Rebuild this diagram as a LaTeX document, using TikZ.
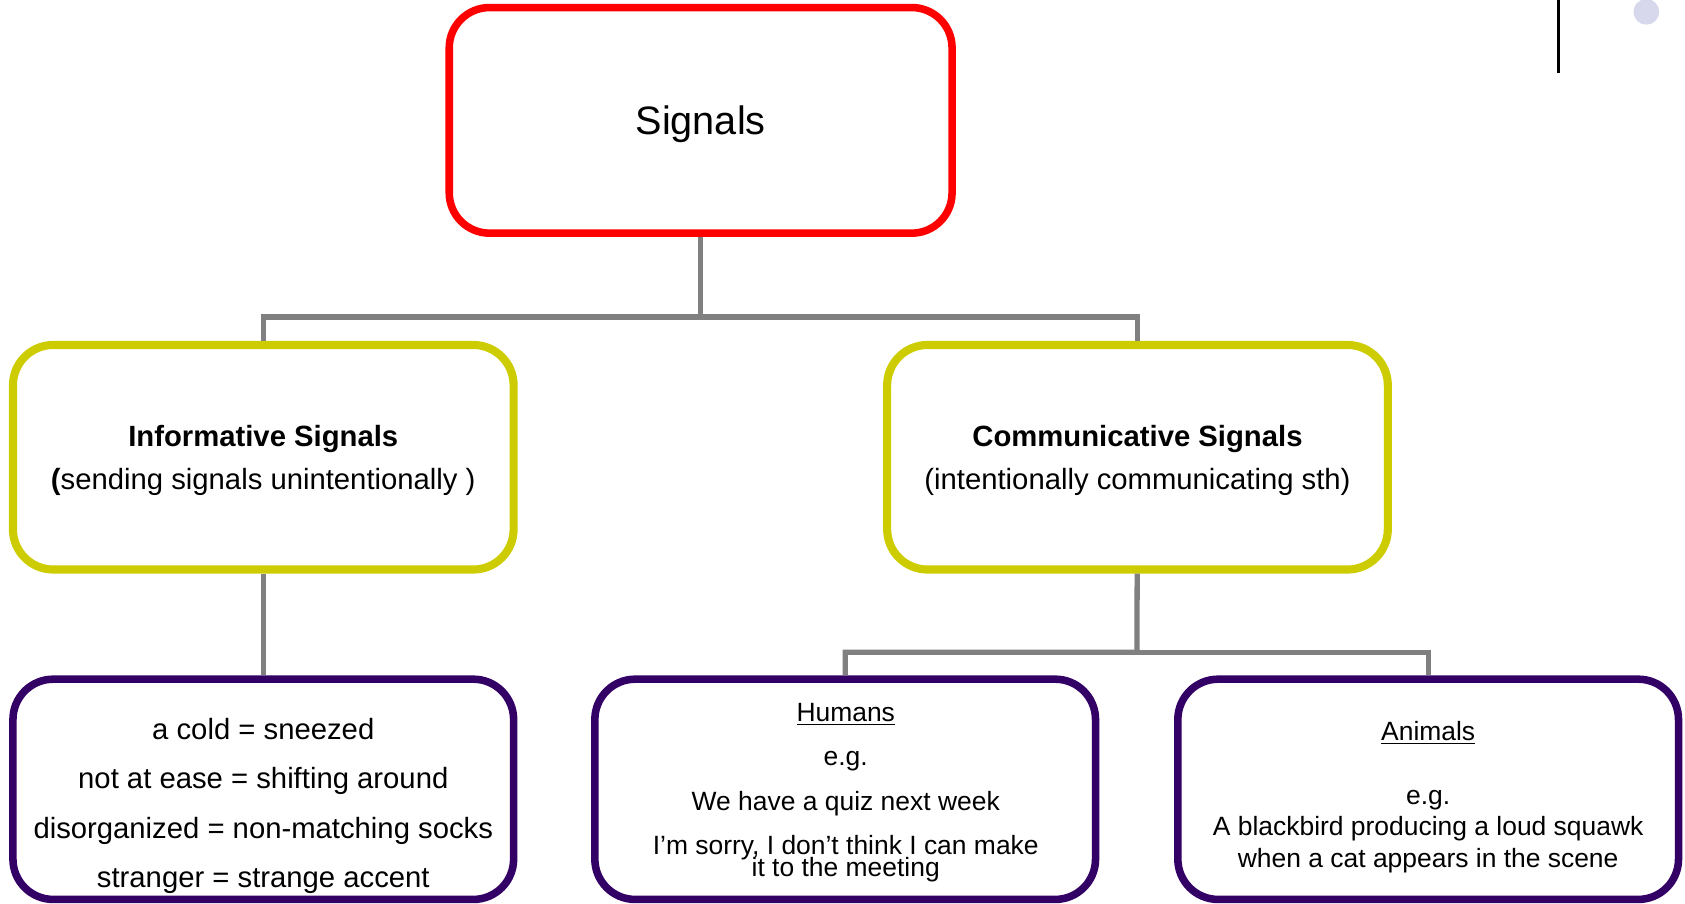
\documentclass[tikz,border=0pt]{standalone}
\usepackage{fontspec}
\setmainfont{Liberation Sans}
\definecolor{olivey}{RGB}{204,204,0}
\definecolor{deep}{RGB}{51,0,102}
\definecolor{linegray}{RGB}{128,128,128}
\definecolor{dotgray}{RGB}{216,216,236}

\begin{document}
\begin{tikzpicture}[x=0.02cm,y=-0.02cm,
        box/.style={draw,rounded corners=0.75cm,minimum width=9.32cm,align=center,inner sep=0pt},
        topbox/.style={box,draw=red,line width=4pt,minimum width=9.36cm,minimum height=4.2cm,text depth=0pt,font=\fontsize{21}{25}\selectfont},
        midbox/.style={box,draw=olivey,line width=4.3pt,minimum height=4.18cm,text depth=0pt,font=\fontsize{15.5}{22.7}\selectfont},
        leafbox/.style={box,draw=deep,line width=4pt,minimum height=4.1cm},
        link/.style={draw=linegray,line width=2.8pt},
        txt/.style={align=center,inner sep=0pt}]
        \useasboundingbox (0,0) rectangle (1568,841);
    %连线;
        \coordinate (split1) at (652,295);
        \coordinate (split2) at (1058,607);
    %顶层;
        \node[topbox] (sig) at (652,112) {Signals};
    %第二层;
        \node[midbox] (info) at (245,425.5) {\textbf{Informative Signals}\\\textbf{(}sending signals unintentionally )};
        \node[midbox] (comm) at (1058.5,425.5) {\textbf{Communicative Signals}\\(intentionally communicating sth)};
    %第三层;
        \node[leafbox] (cues) at (245,734.5) {};
        \node[leafbox] (humans) at (786.5,734.5) {};
        \node[leafbox] (animals) at (1329,734.5) {};
        \node[txt,font=\fontsize{15.5}{26}\selectfont] (cuestxt) at (245,750) {a cold = sneezed\\not at ease = shifting around\\disorganized = non-matching socks\\stranger = strange accent};
        \node[txt,font=\fontsize{14}{23.5}\selectfont] (humtxt) at (787,737.5) {\underline{Humans}\\e.g.\\We have a quiz next week\\I’m sorry, I don’t think I can make\\[-12pt]it to the meeting};
        \node[txt,font=\fontsize{14}{16.7}\selectfont] (anitxt) at (1329,741.5) {\underline{Animals}\\[17.3pt]e.g.\\A blackbird producing a loud squawk\\when a cat appears in the scene};
    %树枝;
        \draw[link] (sig) -- (split1) -| (info);
        \draw[link] (split1) -| (comm);
        \draw[link] (info) -- (cues);
        \draw[link] (comm) -- (split2) -| (humans);
        \draw[link] (split2) -| (animals);
    %右上角;
        \draw[line width=1.4pt] (1450,0) -- (1450,68);
        \fill[dotgray] (1532,11) circle (12);
\end{tikzpicture}
\end{document}
